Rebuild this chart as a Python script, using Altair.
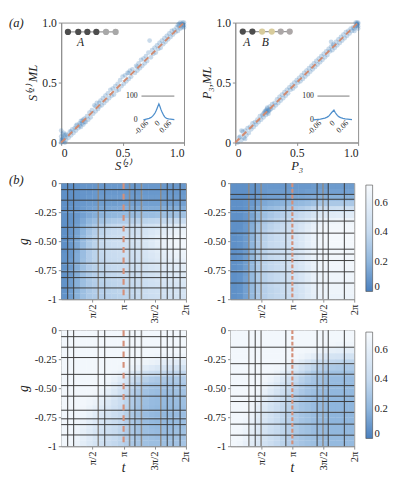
import altair as alt
import pandas as pd

FONT = "Liberation Serif"

# ---------------- (a) scatter data ----------------
s_true = [0.00,0.01,0.00,0.02,0.01,0.03,0.00,0.02,0.04,0.05,
          0.01,0.03,0.06,0.07,0.08,0.09,0.10,0.11,0.12,0.13,
          0.14,0.15,0.16,0.17,0.18,0.19,0.20,0.21,0.22,0.23,
          0.24,0.25,0.26,0.27,0.28,0.29,0.30,0.31,0.32,0.33,
          0.34,0.35,0.36,0.37,0.38,0.39,0.40,0.41,0.42,0.43,
          0.44,0.45,0.46,0.47,0.48,0.49,0.50,0.51,0.52,0.53,
          0.54,0.55,0.56,0.57,0.58,0.60,0.61,0.62,0.63,0.64,
          0.65,0.66,0.67,0.68,0.69,0.70,0.71,0.72,0.73,0.74,
          0.75,0.76,0.77,0.78,0.79,0.80,0.81,0.82,0.83,0.84,
          0.85,0.86,0.87,0.88,0.89,0.90,0.91,0.92,0.93,0.94,
          0.95,0.96,0.97,0.98,0.99,1.00,0.99,1.00,0.97,0.95,
          0.15,0.17,0.19,0.16,0.18,0.02,0.04,0.01,0.00,0.03,
          0.98,1.00,0.96,0.99,0.28,0.31,0.55,0.62,0.12,0.08]
s_ml = [0.00,0.02,0.05,0.01,0.07,0.04,0.10,0.08,0.02,0.06,
        0.03,0.00,0.04,0.09,0.06,0.11,0.08,0.12,0.10,0.15,
        0.12,0.16,0.13,0.18,0.15,0.20,0.17,0.22,0.19,0.25,
        0.21,0.27,0.24,0.31,0.26,0.33,0.28,0.30,0.35,0.31,
        0.37,0.33,0.39,0.35,0.41,0.37,0.44,0.39,0.45,0.40,
        0.47,0.43,0.49,0.44,0.52,0.47,0.55,0.49,0.56,0.51,
        0.58,0.53,0.60,0.55,0.61,0.58,0.64,0.60,0.66,0.62,
        0.69,0.64,0.70,0.66,0.72,0.68,0.75,0.85,0.71,0.77,
        0.74,0.79,0.75,0.81,0.78,0.83,0.79,0.85,0.82,0.87,
        0.84,0.89,0.86,0.91,0.88,0.93,0.90,0.94,0.92,0.96,
        0.93,0.97,0.95,0.99,0.97,1.00,1.00,0.96,1.00,0.98,
        0.14,0.16,0.17,0.18,0.19,0.04,0.07,0.01,0.02,0.06,
        0.96,0.98,0.99,0.98,0.30,0.33,0.58,0.63,0.14,0.09]

p_true = [0.02,0.04,0.05,0.06,0.07,0.08,0.09,0.10,0.11,0.12,
          0.13,0.14,0.15,0.16,0.17,0.18,0.19,0.20,0.21,0.22,
          0.23,0.24,0.25,0.25,0.26,0.26,0.27,0.27,0.28,0.28,
          0.29,0.30,0.31,0.32,0.33,0.34,0.35,0.36,0.37,0.38,
          0.39,0.40,0.41,0.42,0.43,0.44,0.45,0.46,0.47,0.48,
          0.49,0.50,0.51,0.52,0.53,0.54,0.55,0.56,0.57,0.58,
          0.59,0.60,0.61,0.62,0.63,0.64,0.65,0.66,0.67,0.68,
          0.69,0.70,0.71,0.72,0.73,0.74,0.75,0.76,0.77,0.78,
          0.78,0.79,0.80,0.81,0.82,0.83,0.84,0.85,0.86,0.87,
          0.88,0.89,0.90,0.91,0.92,0.93,0.94,0.95,0.96,0.97,
          0.98,0.99,1.00,1.00,0.99,1.00,0.98,0.97,0.24,0.26,
          0.25,0.23,0.27,0.08,0.05,0.03,0.99,1.00,0.98,0.80]
p_ml = [0.00,0.05,0.02,0.09,0.04,0.10,0.06,0.12,0.08,0.13,
        0.11,0.16,0.13,0.17,0.15,0.19,0.17,0.22,0.19,0.23,
        0.21,0.26,0.23,0.27,0.25,0.29,0.26,0.24,0.30,0.27,
        0.28,0.32,0.29,0.33,0.31,0.36,0.33,0.38,0.35,0.40,
        0.37,0.42,0.39,0.44,0.41,0.46,0.44,0.48,0.45,0.50,
        0.47,0.52,0.50,0.54,0.51,0.56,0.53,0.58,0.55,0.60,
        0.57,0.62,0.59,0.64,0.61,0.66,0.63,0.68,0.65,0.70,
        0.67,0.72,0.69,0.74,0.71,0.76,0.73,0.78,0.76,0.80,
        0.84,0.77,0.82,0.79,0.84,0.81,0.86,0.83,0.88,0.85,
        0.90,0.87,0.92,0.89,0.93,0.91,0.95,0.93,0.96,0.95,
        0.97,0.99,1.00,0.97,1.00,0.95,1.00,0.93,0.25,0.28,
        0.26,0.24,0.27,0.03,0.10,0.04,0.98,0.99,0.97,0.81]

# inset error histograms
inset_l_x = [-0.08,-0.07,-0.06,-0.05,-0.04,-0.035,-0.03,-0.025,-0.02,-0.015,-0.01,-0.005,0.0,
             0.005,0.01,0.015,0.02,0.025,0.03,0.035,0.04,0.05,0.06,0.07,0.08]
inset_l_y = [2,4,6,8,12,15,19,24,30,38,48,58,68,58,46,36,28,20,14,10,8,6,5,4,3]
inset_r_x = [-0.09,-0.08,-0.07,-0.06,-0.05,-0.04,-0.035,-0.03,-0.025,-0.02,-0.015,-0.01,0.0,
             0.005,0.01,0.015,0.02,0.025,0.03,0.04,0.05,0.06,0.07,0.08]
inset_r_y = [2,3,4,5,7,9,11,13,16,20,26,32,42,33,26,20,16,13,11,8,6,5,4,3]
inset_x_ticks = [-0.06, 0.0, 0.06]
inset_x_labels = ["-0.06", "0", "0.06"]
inset_y_ticks = [0, 100]

# ---------------- (b) heat maps (values x100, rows g=0 -> -1, cols t=0 -> 2pi) ----------------
heat_tl = [
 [6,6,7,8,8,8,9,9,9,9,9,9,9,9,9,9,9,9,9,9],
 [6,6,7,8,8,9,9,9,9,9,9,9,9,9,9,9,9,9,9,9],
 [6,6,7,8,9,9,10,10,10,10,10,10,10,10,10,10,10,10,10,10],
 [6,6,8,9,10,10,11,11,11,12,12,12,12,12,12,12,12,12,12,12],
 [6,7,8,10,12,13,14,14,15,15,16,16,16,16,16,16,17,17,17,17],
 [6,7,9,12,15,17,19,20,21,22,23,23,24,24,24,25,25,25,26,26],
 [6,7,10,15,20,24,27,29,31,32,33,34,35,36,37,38,39,40,41,42],
 [6,8,12,18,25,30,34,37,39,40,41,42,44,46,48,50,52,54,56,58],
 [6,8,13,20,28,33,37,40,42,43,44,45,47,50,53,56,59,62,65,66],
 [6,8,14,22,30,35,39,42,44,45,46,47,49,52,56,60,63,66,68,69],
 [6,9,15,23,31,36,40,42,44,45,46,47,49,52,56,60,63,66,68,69],
 [6,9,15,24,32,36,40,42,43,44,45,46,48,51,55,58,61,64,66,67],
 [7,9,16,24,32,36,39,41,42,43,44,45,47,50,53,56,59,62,64,65],
 [7,10,16,25,32,36,38,40,41,42,43,44,46,48,51,54,57,59,61,62],
 [7,10,17,25,32,35,37,39,40,41,42,43,45,47,50,52,55,57,58,59],
 [7,10,17,25,31,34,36,38,39,40,41,42,44,46,48,50,52,54,55,56],
 [7,11,18,25,31,34,36,37,38,39,40,41,43,45,47,49,51,52,53,54],
 [7,11,18,25,30,33,35,36,37,38,39,40,42,44,46,47,49,50,51,52],
 [7,11,18,25,30,33,34,35,36,37,38,39,41,43,45,46,47,48,49,50],
 [7,11,18,25,30,32,33,34,35,36,37,38,40,42,44,45,46,47,48,49],
]
heat_tr = [
 [6,6,6,7,8,9,9,9,9,9,9,9,9,10,10,10,10,10,10,10],
 [6,6,6,7,8,9,10,10,10,10,10,10,11,11,12,12,12,12,12,12],
 [6,6,6,8,10,11,12,12,13,13,14,14,15,16,17,17,18,18,18,18],
 [6,6,7,9,12,15,17,18,19,20,21,22,24,26,28,29,30,30,30,30],
 [6,6,7,11,16,20,23,25,27,28,30,32,35,38,41,43,44,45,45,45],
 [6,6,8,13,20,25,29,32,34,36,38,41,45,50,54,56,57,58,58,58],
 [6,6,8,15,23,29,33,36,38,40,43,47,52,58,62,64,65,66,66,66],
 [6,6,9,17,26,32,36,39,41,43,46,51,57,62,66,68,69,69,69,69],
 [6,7,9,18,28,34,38,41,43,45,48,53,59,64,68,70,70,70,70,70],
 [6,7,10,19,29,35,39,42,44,46,49,54,60,65,68,70,70,70,70,70],
 [6,7,10,20,30,36,40,42,44,46,49,54,60,65,68,69,70,70,70,70],
 [6,7,10,20,30,36,40,42,44,46,49,54,60,64,67,69,69,69,69,69],
 [6,7,11,21,31,36,40,42,44,46,49,53,59,64,67,68,69,69,69,69],
 [6,7,11,21,31,36,39,41,43,45,48,53,59,63,66,68,68,68,68,68],
 [6,7,11,22,31,36,39,41,43,45,48,52,58,63,66,67,68,68,68,68],
 [6,7,11,22,31,35,38,40,42,44,47,52,58,62,65,67,67,67,67,67],
 [6,7,12,22,31,35,38,40,42,44,47,51,57,62,65,66,67,67,67,67],
 [6,7,12,22,30,35,38,40,41,43,46,51,57,61,64,66,66,66,66,66],
 [6,7,12,22,30,34,37,39,41,43,46,50,56,61,64,65,66,66,66,66],
 [6,7,12,22,30,34,37,39,40,42,45,50,56,60,63,65,65,65,65,65],
]
heat_bl = [
 [69,69,69,69,69,69,69,69,69,69,69,69,69,69,69,69,69,69,69,69],
 [69,69,69,69,69,69,69,69,69,69,69,69,69,69,69,69,69,69,69,69],
 [69,69,69,69,69,69,69,69,69,69,69,69,69,69,69,69,69,69,69,69],
 [69,69,69,69,69,69,69,69,69,69,69,69,69,69,69,69,69,69,69,69],
 [69,69,69,69,69,69,69,69,69,69,69,69,69,69,68,67,66,66,66,66],
 [69,69,69,69,69,69,69,69,69,69,69,68,67,66,64,62,60,59,58,58],
 [69,69,69,69,69,69,69,69,69,68,67,65,62,58,55,52,50,49,48,48],
 [69,69,69,69,69,69,69,69,67,64,60,55,50,45,42,40,39,38,38,38],
 [69,69,69,69,69,69,69,67,63,57,50,44,39,35,32,30,30,30,31,32],
 [69,69,69,69,69,69,68,64,58,51,44,38,33,29,27,26,26,27,28,29],
 [69,69,69,69,69,68,65,60,54,47,40,34,30,27,25,24,24,25,26,27],
 [69,69,69,69,68,66,62,57,51,45,38,33,29,26,24,23,23,24,25,26],
 [69,69,69,69,67,64,59,54,48,43,37,32,28,25,23,22,22,23,24,25],
 [69,69,69,68,65,61,56,51,46,41,36,31,27,24,22,21,21,22,23,24],
 [69,69,69,67,63,58,53,49,44,40,35,30,27,24,22,21,21,22,23,24],
 [69,69,68,65,60,55,51,47,43,39,34,30,27,24,22,21,21,22,23,24],
 [69,69,67,63,58,53,49,45,42,38,34,30,27,25,23,22,22,23,24,25],
 [69,68,66,61,56,51,47,44,41,37,33,30,27,25,24,23,23,24,25,26],
 [69,68,65,60,55,50,46,43,40,37,33,30,28,26,25,24,24,25,26,27],
 [69,68,64,59,54,49,45,42,39,36,33,30,28,26,25,25,25,26,27,28],
]
heat_br = [
 [69,69,69,69,69,69,69,69,69,69,69,69,69,69,69,69,69,69,69,69],
 [69,69,69,69,69,69,69,69,69,69,69,69,69,69,69,69,69,69,69,69],
 [69,69,69,69,69,69,69,69,69,69,69,69,69,69,69,68,68,67,67,67],
 [69,69,69,69,69,69,69,69,69,69,69,69,68,67,65,63,61,60,60,60],
 [69,69,69,69,69,69,69,69,69,69,68,66,63,59,55,52,50,49,48,48],
 [69,69,69,69,69,69,69,69,68,66,62,57,51,46,42,40,38,37,36,36],
 [69,69,69,69,69,69,69,68,65,60,54,47,41,37,34,32,31,30,30,30],
 [69,69,69,69,69,69,68,65,60,53,46,40,35,31,29,27,26,26,26,26],
 [69,69,69,69,69,68,65,60,53,46,40,35,31,28,26,24,23,23,23,23],
 [69,69,69,69,68,65,60,54,47,41,36,32,28,26,24,22,22,22,22,22],
 [69,69,69,69,66,62,56,50,44,39,34,30,27,25,23,22,21,21,21,21],
 [69,69,69,68,64,59,53,47,42,37,33,29,26,24,22,21,21,21,21,21],
 [69,69,69,67,62,56,50,45,40,36,32,28,26,24,22,21,20,20,20,20],
 [69,69,69,66,60,54,48,43,39,35,31,28,26,24,22,21,20,20,20,20],
 [69,69,68,64,58,52,47,42,38,34,31,28,26,24,22,21,20,20,20,20],
 [69,69,67,62,56,51,46,41,37,34,31,28,26,24,22,21,20,20,20,20],
 [69,69,66,61,55,50,45,41,37,34,31,28,26,24,23,22,21,21,21,21],
 [69,68,65,59,54,49,44,40,37,34,31,28,26,24,23,22,21,21,21,21],
 [69,68,64,58,53,48,44,40,36,33,30,28,26,25,23,22,22,22,22,22],
 [69,67,62,57,52,47,43,39,36,33,30,28,26,25,24,23,22,22,22,22],
]

# grid-line positions (t in units of pi, g)
vl_left_dark = [0.104, 0.20, 0.698, 1.182, 1.70, 1.794, 1.906]
vl_left_gray = [0.594, 1.096, 1.286, 1.596]
hl_left = [-0.056, -0.147, -0.236, -0.381, -0.478, -0.569, -0.69, -0.764, -0.814, -0.903]
vl_right_dark = [0.40, 0.895, 1.40, 1.58, 1.84]
vl_right_gray = [0.297, 0.495, 1.495]
hl_tr = [-0.097, -0.139, -0.236, -0.327, -0.431, -0.569, -0.611, -0.667, -0.764, -0.861]
hl_br = [-0.147, -0.289, -0.38, -0.478, -0.569, -0.615, -0.708, -0.81, -0.905]
t_marker = [1.0]

t_tick_vals = [0.5, 1.0, 1.5, 2.0]
g_tick_vals = [0, -0.25, -0.5, -0.75, -1]

SW, SH = 127, 124
HW, HH = 129, 120


def scatter(xs, ys, xtitle, ytitle, ins_x, ins_y, ins_xrange, rule_span, lab_x,
            chain_x, chain_y, chain_cols, letters, panel_label=None):
    xsc = alt.Scale(domain=[0, 1], nice=False, zero=False)
    ysc = alt.Scale(domain=[0, 1], nice=False, zero=False)
    lab = "datum.value == 0 ? '0' : format(datum.value, '.1f')"
    pts = alt.Chart(pd.DataFrame({"x": xs, "y": ys})).mark_circle(
        size=24, opacity=0.28, color="#3f7fb8").encode(
        x=alt.X("x:Q", scale=xsc, axis=alt.Axis(values=[0, 0.5, 1], labelExpr=lab, title=xtitle,
                                                 titlePadding=2, tickSize=3, labelOverlap=False)),
        y=alt.Y("y:Q", scale=ysc, axis=alt.Axis(values=[0, 0.5, 1], labelExpr=lab, title=ytitle,
                                                 titlePadding=3, tickSize=3, labelOverlap=False)))
    diag = alt.Chart(pd.DataFrame({"x": [0, 1], "y": [0, 1]})).mark_line(
        color="#d08a70", strokeDash=[6, 4], strokeWidth=2).encode(
        x=alt.X("x:Q", scale=xsc), y=alt.Y("y:Q", scale=ysc))
    cdf = pd.DataFrame({"x": chain_x, "y": chain_y, "c": chain_cols})
    cline = alt.Chart(cdf).mark_line(color="#9a9a9a", strokeWidth=1.2).encode(
        x=alt.X("x:Q", scale=xsc), y=alt.Y("y:Q", scale=ysc))
    cpts = alt.Chart(cdf).mark_circle(size=42, opacity=1).encode(
        x=alt.X("x:Q", scale=xsc), y=alt.Y("y:Q", scale=ysc),
        color=alt.Color("c:N", scale=None))
    ldf = pd.DataFrame({"x": [l[0] for l in letters], "y": [l[1] for l in letters],
                        "t": [l[2] for l in letters]})
    lets = alt.Chart(ldf).mark_text(font=FONT, fontStyle="italic", fontSize=12, color="#222").encode(
        x=alt.X("x:Q", scale=xsc), y=alt.Y("y:Q", scale=ysc), text="t:N")
    main_layers = [pts, diag, cline, cpts, lets]
    main_layers.append(alt.Chart(pd.DataFrame({"a": [0]})).mark_text(
        text=panel_label or "(a)", opacity=1 if panel_label else 0, font=FONT, fontStyle="italic",
        fontSize=13, align="left", baseline="middle", color="#222").encode(
        x=alt.value(-54), y=alt.value(1)))
    main = alt.layer(*main_layers)

    ixs = alt.Scale(domain=[-0.06, 0.06], range=ins_xrange, nice=False, zero=False)
    iys = alt.Scale(domain=[0, 100], range=[101, 76], nice=False, zero=False)
    iline = alt.Chart(pd.DataFrame({"ix": ins_x, "iy": ins_y})).mark_line(
        color="#4f8fcc", strokeWidth=1.3).encode(
        x=alt.X("ix:Q", scale=ixs, axis=None), y=alt.Y("iy:Q", scale=iys, axis=None))
    irule = alt.Chart(pd.DataFrame({"a": [rule_span[0]], "b": [rule_span[1]], "v": [100]})).mark_rule(
        color="#555", strokeWidth=0.8).encode(
        x=alt.X("a:Q", scale=ixs, axis=None), x2="b:Q", y=alt.Y("v:Q", scale=iys, axis=None))
    iyl = alt.Chart(pd.DataFrame({"x": [lab_x, lab_x], "v": inset_y_ticks,
                                  "t": [str(v) for v in inset_y_ticks]})).mark_text(
        font=FONT, fontSize=8, align="right", baseline="middle", dx=-2, color="#222").encode(
        x=alt.X("x:Q", scale=ixs, axis=None), y=alt.Y("v:Q", scale=iys, axis=None), text="t:N")
    ixl = alt.Chart(pd.DataFrame({"x": inset_x_ticks, "v": [-8, -8, -8],
                                  "t": inset_x_labels})).mark_text(
        font=FONT, fontSize=8, align="right", baseline="middle", angle=315, color="#222").encode(
        x=alt.X("x:Q", scale=ixs, axis=None), y=alt.Y("v:Q", scale=iys, axis=None), text="t:N")
    inset = alt.layer(iline, irule, iyl, ixl)
    return alt.layer(main, inset).resolve_scale(x="independent", y="independent").properties(
        width=SW, height=SH)


left_sc = scatter(s_true, s_ml, "S⁽²⁾", "S⁽²⁾ ML", inset_l_x, inset_l_y, [89, 113],
                  [-0.09, 0.08], -0.1,
                  [0.055, 0.139, 0.213, 0.286, 0.365, 0.443], [0.922] * 6,
                  ["#4d4d4d"] * 4 + ["#a8a8a8"] * 2,
                  [(0.157, 0.839, "A")], panel_label="(a)")
right_sc = scatter(p_true, p_ml, "P₃", "P₃,ML", inset_r_x, inset_r_y, [88, 116],
                   [-0.073, 0.069], -0.08,
                   [0.061, 0.139, 0.218, 0.297, 0.37, 0.443], [0.925] * 6,
                   ["#4d4d4d"] * 2 + ["#d8cc9c"] * 2 + ["#aca7a7"] * 2,
                   [(0.094, 0.839, "A"), (0.244, 0.839, "B")])


def heat(matrix, v_dark, v_gray, h_lines, dash, width, ytitle, legend, t_title, panel_label=None,
         spacer=False):
    recs = []
    for r, row in enumerate(matrix):
        for c, v in enumerate(row):
            recs.append({"t0": c * 0.1, "t1": (c + 1) * 0.1 + 0.006, "g0": -r * 0.05,
                         "g1": -(r + 1) * 0.05 - 0.003, "v": v / 100})
    df = pd.DataFrame(recs)
    xsc = alt.Scale(domain=[0, 2], nice=False, zero=False)
    ysc = alt.Scale(domain=[-1, 0], nice=False, zero=False)
    csc = alt.Scale(domain=[0, 0.2, 0.4, 0.72],
                    range=["#4a80be", "#8fb6dd", "#c6daef", "#f7fafd"])
    tlab = ("datum.value == 0.5 ? 'π/2' : datum.value == 1 ? 'π' : "
            "datum.value == 1.5 ? '3π/2' : '2π'")
    glab = ("datum.value > -0.1 ? '0' : datum.value < -0.9 ? '-1' : datum.value > -0.3 ? '-0.25' : "
            "datum.value > -0.6 ? '-0.50' : '-0.75'")
    x_axis = alt.Axis(values=t_tick_vals, labelExpr=tlab, labelAngle=270, title=None,
                      tickSize=3, labelPadding=2, labelFontSize=11, labelOverlap=False)
    y_axis = alt.Axis(values=g_tick_vals, labelExpr=glab, title=ytitle, tickSize=3,
                      labelPadding=2, labelFontSize=11, titleFontSize=14,
                      titleFontStyle="italic", titlePadding=4, labelOverlap=False,
                      labelBound=False, labelFlush=False, labelSeparation=0)
    leg = None
    if legend:
        leg = alt.Legend(title=None, orient="none", legendX=width + 12, legendY=2,
                         gradientLength=110, gradientThickness=7, values=[0, 0.2, 0.4, 0.6],
                         labelExpr="datum.value == 0 ? '0' : format(datum.value, '.1f')",
                         labelFont=FONT, labelFontSize=11, labelColor="#222",
                         gradientStrokeColor="#444", gradientStrokeWidth=0.6,
                         direction="vertical")
    rect = alt.Chart(df).mark_rect(clip=True).encode(
        x=alt.X("t0:Q", scale=xsc, axis=x_axis),
        x2="t1:Q",
        y=alt.Y("g0:Q", scale=ysc, axis=y_axis),
        y2="g1:Q",
        color=alt.Color("v:Q", scale=csc, legend=leg))
    vd = alt.Chart(pd.DataFrame({"t0": v_dark})).mark_rule(color="#3a3a3a", strokeWidth=1).encode(
        x=alt.X("t0:Q", scale=xsc, axis=x_axis))
    vg = alt.Chart(pd.DataFrame({"t0": v_gray})).mark_rule(color="#8a8a8a", strokeWidth=1.6).encode(
        x=alt.X("t0:Q", scale=xsc, axis=x_axis))
    hh = alt.Chart(pd.DataFrame({"g0": h_lines})).mark_rule(color="#3a3a3a", strokeWidth=1).encode(
        y=alt.Y("g0:Q", scale=ysc, axis=y_axis))
    mk = alt.Chart(pd.DataFrame({"t0": t_marker})).mark_rule(
        color="#d4907a", strokeWidth=2.2, strokeDash=dash).encode(
        x=alt.X("t0:Q", scale=xsc, axis=x_axis))
    layers = [rect, vd, vg, hh, mk]
    if t_title:
        layers.append(alt.Chart(pd.DataFrame({"a": [0]})).mark_text(
            text="t", font=FONT, fontStyle="italic", fontSize=14, baseline="middle",
            color="#222").encode(x=alt.value(width / 2), y=alt.value(HH + 23)))
    if panel_label or spacer:
        layers.append(alt.Chart(pd.DataFrame({"a": [0]})).mark_text(
            text="(b)", opacity=1 if panel_label else 0, font=FONT, fontStyle="italic",
            fontSize=13, align="left", baseline="middle", color="#222").encode(
            x=alt.value(-54), y=alt.value(-3 if panel_label else HH / 2)))
    return alt.layer(*layers).properties(width=width, height=HH)


tl = heat(heat_tl, vl_left_dark, vl_left_gray, hl_left, [6, 5], HW, "g", False, False, "(b)")
tr = heat(heat_tr, vl_right_dark, vl_right_gray, hl_tr, [4, 2], 128, None, True, False)
bl = heat(heat_bl, vl_left_dark, vl_left_gray, hl_left, [6, 5], HW, "g", False, True, spacer=True)
br = heat(heat_br, vl_right_dark, vl_right_gray, hl_br, [4, 2], 128, None, True, True)

top = alt.hconcat(left_sc, right_sc, spacing=53, bounds="flush")
row1 = alt.hconcat(tl, tr, spacing=46, bounds="flush").resolve_scale(color="independent")
row2 = alt.hconcat(bl, br, spacing=46, bounds="flush").resolve_scale(color="independent")
heats = alt.vconcat(row1, row2, spacing=-1).resolve_scale(color="independent")

chart = alt.vconcat(top, heats, spacing=0).resolve_scale(color="independent").properties(
    padding={"left": 0, "top": 0, "right": 2, "bottom": 0}
).configure(font=FONT).configure_view(stroke="#8c8c8c").configure_axis(
    labelFont=FONT, titleFont=FONT, labelColor="#222", titleColor="#222",
    domainColor="#8c8c8c", tickColor="#8c8c8c", grid=False, labelFontSize=12,
    titleFontSize=13, titleFontWeight="normal", titleFontStyle="italic", labelOverlap=False
).configure_legend(labelFont=FONT)

chart.save("out.html", embed_options={"renderer": "svg", "actions": False})
